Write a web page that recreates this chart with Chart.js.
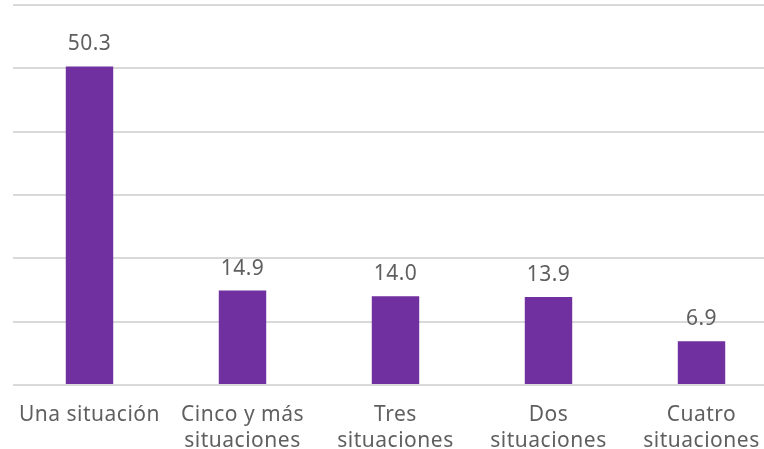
<!DOCTYPE html>
<html>
<head>
<meta charset="utf-8">
<script src="https://cdn.jsdelivr.net/npm/chart.js@4"></script>
<style>
  html, body { margin: 0; padding: 0; background: #fff; overflow: hidden; }
  #wrap { width: 792px; height: 449px; }
</style>
</head>
<body>
<div id="wrap"><canvas id="situChart"></canvas></div>
<script>
const categories = [['Una situación'], ['Cinco y más', 'situaciones'], ['Tres', 'situaciones'], ['Dos', 'situaciones'], ['Cuatro', 'situaciones']];
const values = [50.3, 14.9, 14.0, 13.9, 6.9];
const valueLabels = ['50.3', '14.9', '14.0', '13.9', '6.9'];

const FONT = '"Noto Sans", sans-serif';
const SPACING = '0.5px';

// wider letter spacing, closer to the original typeface
const spacing = {
    id: 'spacing',
    beforeLayout(chart) { chart.ctx.letterSpacing = SPACING; },
    beforeDraw(chart) { chart.ctx.letterSpacing = SPACING; }
};

// draw the numbers above each bar
const barValues = {
    id: 'barValues',
    afterDatasetsDraw(chart) {
        const c = chart.ctx;
        const meta = chart.getDatasetMeta(0);
        c.save();
        c.letterSpacing = SPACING;
        c.font = '21px ' + FONT;
        c.fillStyle = '#5f5f5f';
        c.textAlign = 'center';
        c.textBaseline = 'alphabetic';
        meta.data.forEach(function(bar, i) {
            c.fillText(valueLabels[i], bar.x, bar.y - 16);
        });
        c.restore();
    }
};

const ctx = document.getElementById('situChart').getContext('2d');
let situChart = new Chart(ctx, {
    type: 'bar',
    data: {
        labels: categories,
        datasets: [{
            data: values,
            backgroundColor: '#7030A0',
            categoryPercentage: 1,
            barPercentage: 0.31
        }]
    },
    options: {
        responsive: true,
        maintainAspectRatio: false,
        animation: false,
        layout: { padding: { left: 13, right: 14, top: 5, bottom: -14 } },
        plugins: {
            legend: { display: false },
            tooltip: { enabled: false }
        },
        scales: {
            x: {
                grid: { display: false },
                border: { display: false },
                ticks: {
                    color: '#5f5f5f',
                    font: { family: FONT, size: 21, lineHeight: 1.24 },
                    padding: 9,
                    maxRotation: 0,
                    autoSkip: false
                }
            },
            y: {
                min: 0,
                max: 60,
                ticks: { display: false, stepSize: 10 },
                grid: { color: '#d9d9d9', lineWidth: 2, drawTicks: false },
                border: { display: false }
            }
        }
    },
    plugins: [spacing, barValues]
});
</script>
</body>
</html>
